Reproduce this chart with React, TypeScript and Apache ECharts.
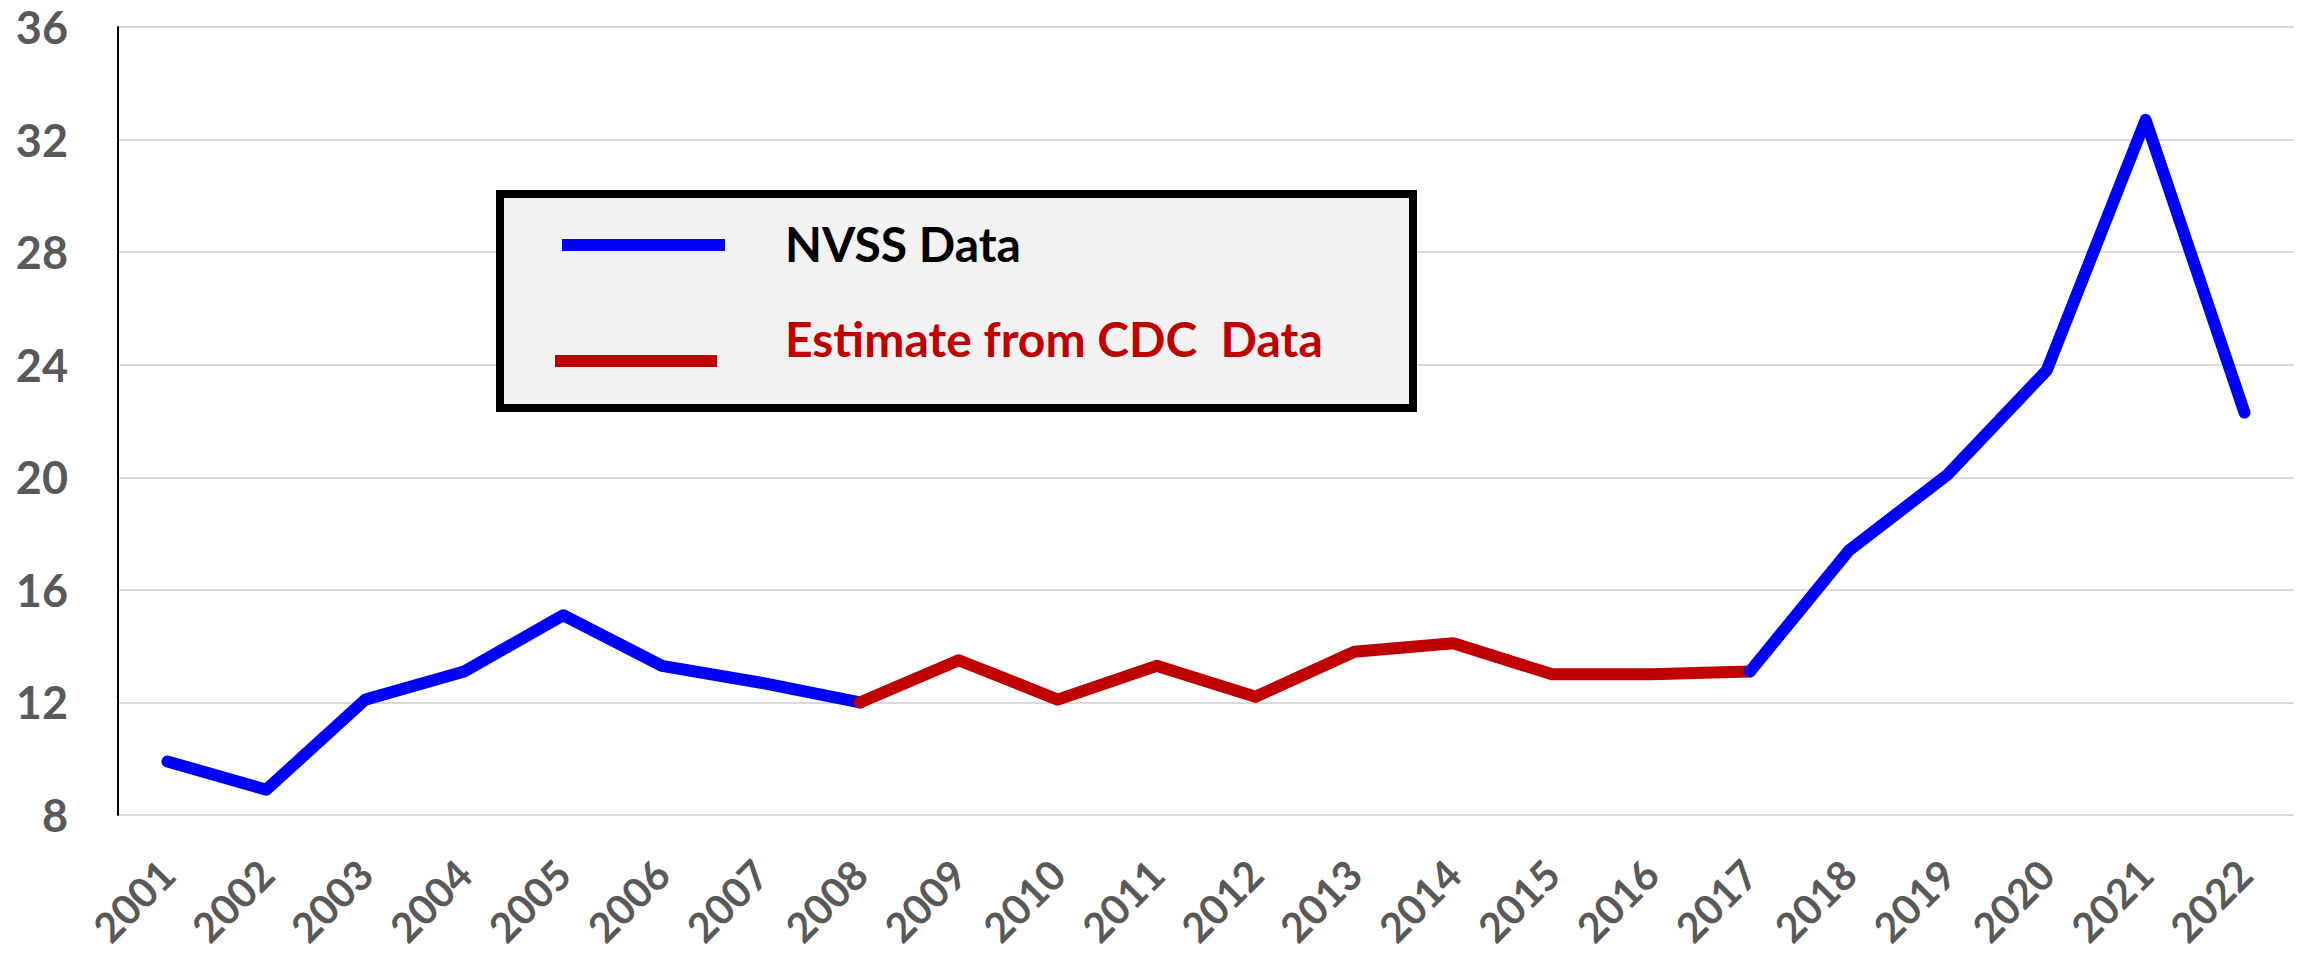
import React, { useEffect, useRef } from "react";
import * as echarts from "echarts";

const years = [
  "2001", "2002", "2003", "2004", "2005", "2006", "2007", "2008", "2009", "2010", "2011",
  "2012", "2013", "2014", "2015", "2016", "2017", "2018", "2019", "2020", "2021", "2022",
];

// NVSS data (null where only CDC estimates exist)
const nvssRates: (number | null)[] = [
  9.9, 8.9, 12.1, 13.1, 15.1, 13.3, 12.7, 12.0,
  null, null, null, null, null, null, null, null,
  13.1, 17.4, 20.1, 23.8, 32.7, 22.3,
];

// Estimate from CDC data
const cdcRates: (number | null)[] = [
  null, null, null, null, null, null, null,
  12.0, 13.5, 12.1, 13.3, 12.2, 13.8, 14.1, 13.0, 13.0, 13.1,
  null, null, null, null, null,
];

const yTicks = { min: 8, max: 36, interval: 4 };

const legendItems = [
  { label: "NVSS Data", color: "#0000ff", textColor: "#000000" },
  { label: "Estimate from CDC  Data", color: "#c00000", textColor: "#c00000" },
];

const FONT = "Lato, 'Noto Sans', sans-serif";
const BLUE = "#0000ff";
const RED = "#c00000";

export default function App() {
  const ref = useRef<HTMLDivElement>(null);

  useEffect(() => {
    if (!ref.current) return;
    const chart = echarts.init(ref.current, undefined, { renderer: "svg" });

    const splitIdxEarly = 7; // 2008
    const splitIdxLate = 16; // 2017
    const blueEarly = nvssRates.map((v, i) => (i <= splitIdxEarly ? v : null));
    const blueLate = nvssRates.map((v, i) => (i >= splitIdxLate ? v : null));

    const lineBase = {
      type: "line" as const,
      symbol: "none",
      connectNulls: false,
      silent: true,
    };

    chart.setOption({
      animation: false,
      backgroundColor: "#ffffff",
      grid: {
        left: 118,
        right: 11,
        top: 27,
        bottom: 150,
        containLabel: false,
        outerBoundsMode: "none",
      },
      xAxis: {
        type: "category",
        data: years,
        boundaryGap: true,
        axisLine: { show: false },
        axisTick: { show: false },
        axisLabel: {
          rotate: 45,
          interval: 0,
          margin: 52,
          color: "#595959",
          fontFamily: FONT,
          fontWeight: "bold",
          fontSize: 41,
        },
      },
      yAxis: {
        type: "value",
        min: yTicks.min,
        max: yTicks.max,
        interval: yTicks.interval,
        axisLine: { show: true, lineStyle: { color: "#000000", width: 2 } },
        axisTick: { show: false },
        splitLine: { show: true, lineStyle: { color: "#d9d9d9", width: 2 } },
        axisLabel: {
          margin: 50,
          color: "#595959",
          fontFamily: FONT,
          fontWeight: "bold",
          fontSize: 45,
        },
      },
      series: [
        {
          ...lineBase,
          name: legendItems[0].label,
          data: blueEarly,
          lineStyle: { color: BLUE, width: 12, cap: "round", join: "round" },
          itemStyle: { color: BLUE },
        },
        {
          ...lineBase,
          name: legendItems[1].label,
          data: cdcRates,
          lineStyle: { color: RED, width: 12, cap: "round", join: "round" },
          itemStyle: { color: RED },
        },
        {
          ...lineBase,
          name: legendItems[0].label + " ",
          data: blueLate,
          lineStyle: { color: BLUE, width: 12, cap: "round", join: "round" },
          itemStyle: { color: BLUE },
        },
      ],
      graphic: [
        {
          type: "rect",
          shape: { x: 500, y: 194, width: 913, height: 214 },
          style: { fill: "#f2f2f2", stroke: "#000000", lineWidth: 8 },
          z: 10,
        },
        {
          type: "rect",
          shape: { x: 562, y: 239, width: 163, height: 12 },
          style: { fill: legendItems[0].color },
          z: 11,
        },
        {
          type: "rect",
          shape: { x: 555, y: 355, width: 162, height: 12 },
          style: { fill: legendItems[1].color },
          z: 11,
        },
        {
          type: "text",
          x: 785,
          y: 243,
          style: {
            text: legendItems[0].label,
            fill: legendItems[0].textColor,
            font: `bold 48px ${FONT}`,
            verticalAlign: "middle",
            align: "left",
          },
          z: 11,
        },
        {
          type: "text",
          x: 785,
          y: 338,
          style: {
            text: legendItems[1].label,
            fill: legendItems[1].textColor,
            font: `bold 48px ${FONT}`,
            verticalAlign: "middle",
            align: "left",
          },
          z: 11,
        },
      ],
    });

    return () => chart.dispose();
  }, []);

  return (
    <div
      ref={ref}
      style={{ position: "fixed", left: 0, top: 0, width: 2305, height: 965, background: "#fff" }}
    />
  );
}
